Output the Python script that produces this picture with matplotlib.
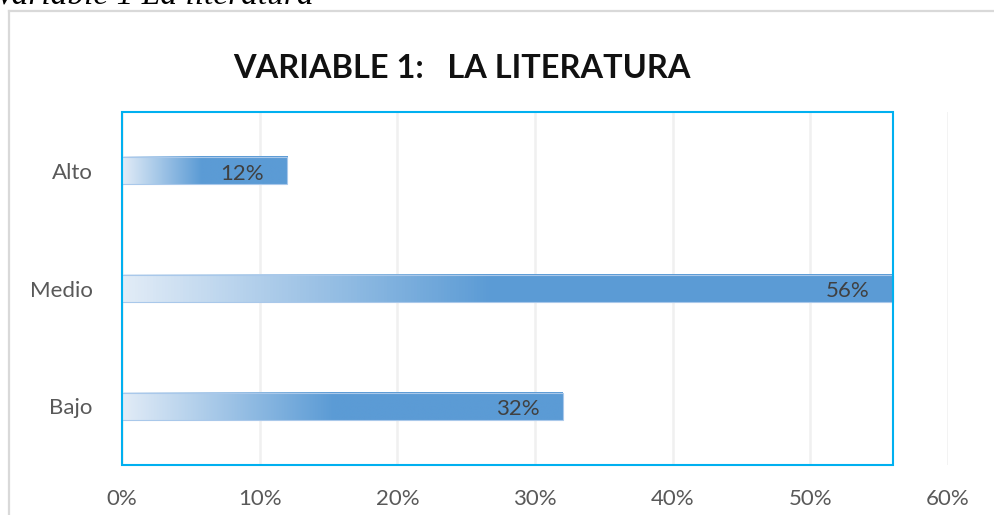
import numpy as np
import matplotlib
matplotlib.use("Agg")
import matplotlib.pyplot as plt
from matplotlib.colors import LinearSegmentedColormap
from matplotlib.lines import Line2D
from matplotlib.patches import Rectangle
import matplotlib.transforms as mtransforms

categories = ["Alto", "Medio", "Bajo"]
values = [0.12, 0.56, 0.32]
value_labels = ["12%", "56%", "32%"]
xticks = [0.0, 0.1, 0.2, 0.3, 0.4, 0.5, 0.6]
xtick_labels = ["0%", "10%", "20%", "30%", "40%", "50%", "60%"]
title = "VARIABLE 1:   LA LITERATURA"
caption = "Variable 1 La literatura"

W, H = 995, 515
fig = plt.figure(figsize=(W / 100, H / 100), dpi=100)
fig.patch.set_facecolor("white")

def fx(px):
    return px / W

def fy(py):
    return 1 - py / H

# outer chart frame (left and top only visible)
fig.add_artist(Line2D([fx(9), fx(9)], [fy(11), 0], color="#d9d9d9", lw=1.6, transform=fig.transFigure))
fig.add_artist(Line2D([fx(9), 1], [fy(11), fy(11)], color="#d9d9d9", lw=1.6, transform=fig.transFigure))

# cropped caption at top
fig.text(fx(-5), fy(4), caption, family="Liberation Serif", style="italic",
         fontsize=24, va="baseline", ha="left", color="black")

# title
fig.text(fx(462), fy(69), title, family="Lato", weight="bold",
         fontsize=23.4, ha="center", va="center", color="#111111")

ax = fig.add_axes([fx(122), fy(465), fx(948) - fx(122), (465 - 112) / H])
n = len(categories)
ax.set_xlim(0, 0.6)
ax.set_ylim(n - 0.5, -0.5)
for s in ax.spines.values():
    s.set_visible(False)

ax.set_xticks(xticks)
ax.set_xticklabels(xtick_labels)
ax.set_yticks(range(n))
ax.set_yticklabels(categories)
ax.tick_params(axis="both", length=0, colors="#595959", labelsize=16)
ax.tick_params(axis="x", pad=17)
ax.tick_params(axis="y", pad=21)
for lab in ax.get_xticklabels() + ax.get_yticklabels():
    lab.set_family("Lato")

ax.grid(axis="x", color="#f0f0f0", lw=1.8)
ax.set_axisbelow(True)

cmap = LinearSegmentedColormap.from_list(
    "g", [(0.0, "#e2ecf7"), (0.48, "#5b9bd5"), (1.0, "#5b9bd5")])
grad = np.linspace(0, 1, 256).reshape(1, -1)
bar_h = 0.23
for i, v in enumerate(values):
    ax.imshow(grad, cmap=cmap, extent=(0, v, i + bar_h / 2, i - bar_h / 2),
              aspect="auto", zorder=2, interpolation="bilinear")
    ax.add_patch(Rectangle((0, i - bar_h / 2), v, bar_h, fill=False,
                           edgecolor="#a9c8ea", lw=0.8, zorder=3))
    ax.annotate(value_labels[i], (v, i), xytext=(-16.5, -2), textcoords="offset points",
                ha="right", va="center", fontsize=16, color="#404040",
                family="Lato", zorder=4)

ax.set_xlim(0, 0.6)
ax.set_ylim(n - 0.5, -0.5)

# plot-area selection frame (up to the largest value)
trans = mtransforms.blended_transform_factory(ax.transData, ax.transAxes)
ax.add_patch(Rectangle((0, 0), max(values), 1, transform=trans, fill=False,
                       edgecolor="#00b0f0", lw=1.5, zorder=5, clip_on=False))

fig.savefig("out.png", dpi=100)
